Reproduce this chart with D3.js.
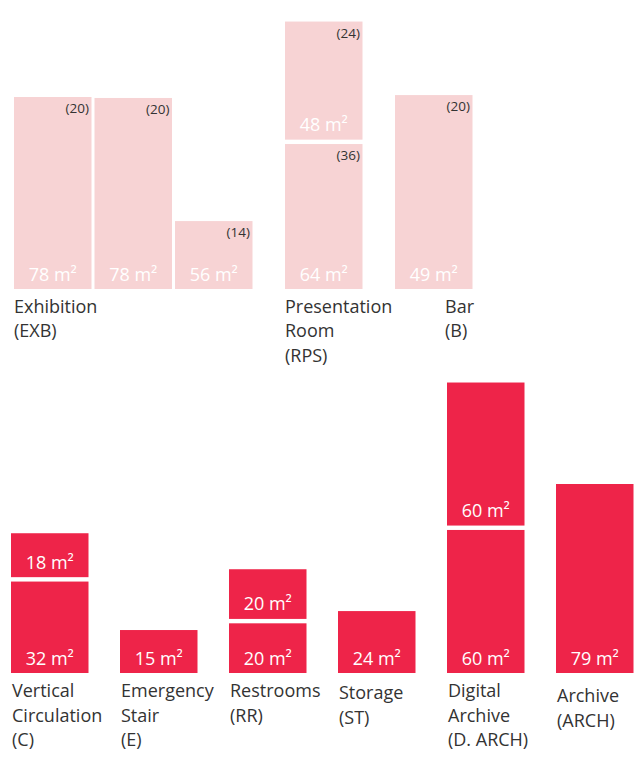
<!DOCTYPE html>
<html>
<head>
<meta charset="utf-8">
<script src="https://cdn.jsdelivr.net/npm/d3@7"></script>
<style>
  html, body { margin: 0; padding: 0; background: #fff; }
  svg { display: block; }
  text { font-family: "Open Sans", "Noto Sans", sans-serif; }
</style>
</head>
<body>
<script>
// ---------------- DATA ----------------
// Top row (public program): one entry per column of blocks, stacked bottom -> top
const topGroups      = ["EXB", "RPS", "B"];
const topGroupLabels = [["Exhibition", "(EXB)"], ["Presentation", "Room", "(RPS)"], ["Bar", "(B)"]];
const topColumnGroup = ["EXB", "EXB", "EXB", "RPS", "B"];
const topAreas       = [[78], [78], [56], [64, 48], [49]];          // m²
const topCounts      = [[20], [20], [14], [36, 24], [20]];          // (occupancy)
const topSizes       = [[80], [79.6], [28.3], [60.4, 49.2], [80.8]]; // drawn block size (diagram units)

// Bottom row (service program)
const bottomGroups      = ["C", "E", "RR", "ST", "D. ARCH", "ARCH"];
const bottomGroupLabels = [["Vertical", "Circulation", "(C)"], ["Emergency", "Stair", "(E)"],
                           ["Restrooms", "(RR)"], ["Storage", "(ST)"],
                           ["Digital", "Archive", "(D. ARCH)"], ["Archive", "(ARCH)"]];
const bottomAreas = [[32, 18], [15], [20, 20], [24], [60, 60], [79]];        // m²
const bottomSizes = [[38.1, 18.3], [17.9], [20.7, 20.7], [25.8], [59.6, 59.6], [78.75]]; // drawn size

// ---------------- LAYOUT ----------------
const W = 641, H = 769;
const lightColor = "#f7d3d4";
const darkColor = "#ee2449";
const textColor = "#333333";
const stackGap = 4.4;
const labelFont = 18;
const valueFont = 18;
const countFont = 13.5;
const lineH = 24.5;

const svg = d3.select("body").append("svg").attr("width", W).attr("height", H);

// Size scale shared by both rows (diagram units -> px)
const size = d3.scaleLinear().domain([0, 100]).range([0, 240]);

// ---- Top row x positions: columns within a group sit close, groups are spaced further apart
const topW = 77.5, innerStep = 80.5, groupStep = 110, topX0 = 14;
const topX = [];
topColumnGroup.forEach((g, i) => {
  if (i === 0) topX.push(topX0);
  else topX.push(topX[i - 1] + (g === topColumnGroup[i - 1] ? innerStep : groupStep));
});
const topBase = 289;

// ---- Bottom row x positions via a band scale
const xB = d3.scaleBand().domain(bottomGroups).range([11, 633.5]).paddingInner(0.289);
const bottomBase = 673;

function buildBlocks(areas, sizes, counts, xs, w, base) {
  const blocks = [];
  areas.forEach((col, ci) => {
    let yBottom = base;
    col.forEach((a, k) => {
      const h = size(sizes[ci][k]);
      blocks.push({ x: xs[ci], w, yBottom, h, area: a, count: counts ? counts[ci][k] : null });
      yBottom = yBottom - h - stackGap;
    });
  });
  return blocks;
}

const topBlocks = buildBlocks(topAreas, topSizes, topCounts, topX, topW, topBase);
const bottomBlocks = buildBlocks(bottomAreas, bottomSizes, null,
  bottomGroups.map(g => xB(g)), xB.bandwidth(), bottomBase);

function drawBlocks(blocks, fill) {
  const g = svg.append("g");
  const b = g.selectAll("g.block").data(blocks).join("g").attr("class", "block");
  b.append("rect")
    .attr("x", d => d.x).attr("y", d => d.yBottom - d.h)
    .attr("width", d => d.w).attr("height", d => d.h)
    .attr("fill", fill);
  b.append("text")
    .attr("x", d => d.x + d.w / 2).attr("y", d => d.yBottom - 8.5)
    .attr("text-anchor", "middle").attr("fill", "#ffffff")
    .attr("font-size", valueFont)
    .text(d => d.area + " m²");
  b.filter(d => d.count != null).append("text")
    .attr("x", d => d.x + d.w - 2.5).attr("y", d => d.yBottom - d.h + 16)
    .attr("text-anchor", "end").attr("fill", textColor)
    .attr("font-size", countFont)
    .text(d => "(" + d.count + ")");
}

drawBlocks(topBlocks, lightColor);
drawBlocks(bottomBlocks, darkColor);

// ---- Category labels
const topLabelX = topGroups.map(g => {
  const i = topColumnGroup.indexOf(g);
  return topX[i] + (g === "B" ? 50 : 0);
});
function drawLabels(labels, xs, y0, dys) {
  const g = svg.append("g");
  labels.forEach((lines, i) => {
    const t = g.append("text")
      .attr("x", xs[i]).attr("y", y0 + (dys ? dys[i] : 0))
      .attr("fill", textColor).attr("font-size", labelFont);
    lines.forEach((ln, j) => {
      t.append("tspan").attr("x", xs[i]).attr("dy", j === 0 ? 0 : lineH).text(ln);
    });
  });
}
drawLabels(topGroupLabels, topLabelX, 312.5);
drawLabels(bottomGroupLabels, bottomGroups.map(g => xB(g) + 1), 697, [0, 0, 0, 2, 0, 5]);
</script>
</body>
</html>
